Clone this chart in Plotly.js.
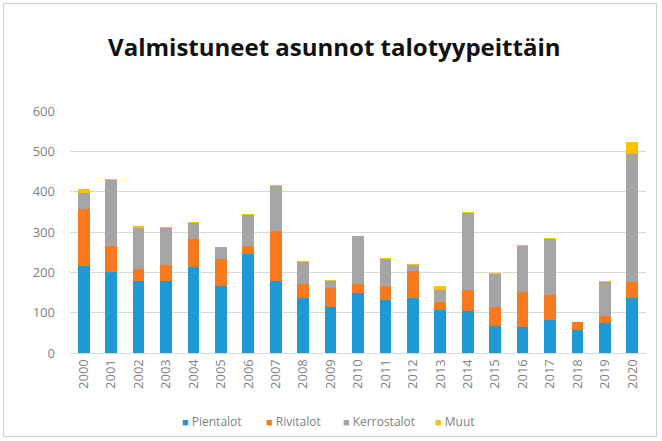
<!DOCTYPE html>
<html><head><meta charset="utf-8">
<script src="https://cdn.plot.ly/plotly-3.0.1.min.js"></script>
<style>body{margin:0;background:#fff}#wrap{position:relative;width:662px;height:441px}#frame{position:absolute;left:3px;top:3px;width:654px;height:434px;border:1px solid #d0d0d0;box-sizing:border-box;pointer-events:none}</style>
</head><body>
<div id="wrap"><div id="chart" style="width:662px;height:441px"></div><div id="frame"></div></div>
<script>
const years = ['2000','2001','2002','2003','2004','2005','2006','2007','2008','2009','2010','2011','2012','2013','2014','2015','2016','2017','2018','2019','2020'];
const pientalot   = [215,202,179,179,214,167,246,179,136,115,148,132,137,107,103,68,65,82,57,75,137];
const rivitalot   = [143,63,29,39,68,65,19,123,34,47,22,33,66,19,53,47,87,62,19,17,38];
const kerrostalot = [38,164,103,91,41,30,77,112,55,17,119,67,15,29,191,81,114,139,1,83,318];
const muut        = [11,3,4,4,3,2,2,3,2,2,2,3,2,10,2,2,3,1,0,3,31];

const names = ['Pientalot','Rivitalot','Kerrostalot','Muut'];
const series = [pientalot, rivitalot, kerrostalot, muut];
const colors = ['#1b9ad6','#f77b1d','#a5a5a5','#ffc000'];

const data = series.map((s,i)=>({type:'bar', x:years, y:s, name:names[i], marker:{color:colors[i]}, showlegend:false}));

// legend entries built as annotations (marker left edge in pixels -> paper coords)
const plotL = 70, plotW = 662-70-16;
const legendPx = [180, 264, 341, 433];
const annotations = names.map((n,i)=>({
  xref:'paper', yref:'paper', x:(legendPx[i]-plotL)/plotW, y:-0.285, xanchor:'left', yanchor:'middle',
  showarrow:false, text:'<span style="color:'+colors[i]+';font-size:11px">■</span> '+n,
  font:{size:12, color:'#7f7f7f', family:'Open Sans, sans-serif'}
}));

const layout = {
  width:662, height:441,
  margin:{l:70,r:16,t:111,b:88},
  paper_bgcolor:'#fff', plot_bgcolor:'#fff',
  barmode:'stack', bargap:0.57,
  font:{family:'Open Sans, sans-serif', color:'#7f7f7f', size:12},
  title:{text:'Valmistuneet asunnot talotyypeittäin', font:{size:24, color:'#111', family:'Open Sans, sans-serif', weight:'bold'}, x:0.505, xanchor:'center', y:0.893, yanchor:'middle'},
  xaxis:{type:'category', tickangle:-90, tickfont:{size:13,color:'#7f7f7f'}, showline:true, linecolor:'#d9d9d9', ticks:'', showgrid:false},
  yaxis:{range:[0,600], dtick:100, tickfont:{size:13,color:'#7f7f7f'}, gridcolor:'#d9d9d9', zeroline:false, showline:false, ticks:'', ticklabelstandoff:14},
  annotations:annotations,
  showlegend:false
};
Plotly.newPlot('chart', data, layout, {displayModeBar:false, staticPlot:true});
</script>
</body></html>
